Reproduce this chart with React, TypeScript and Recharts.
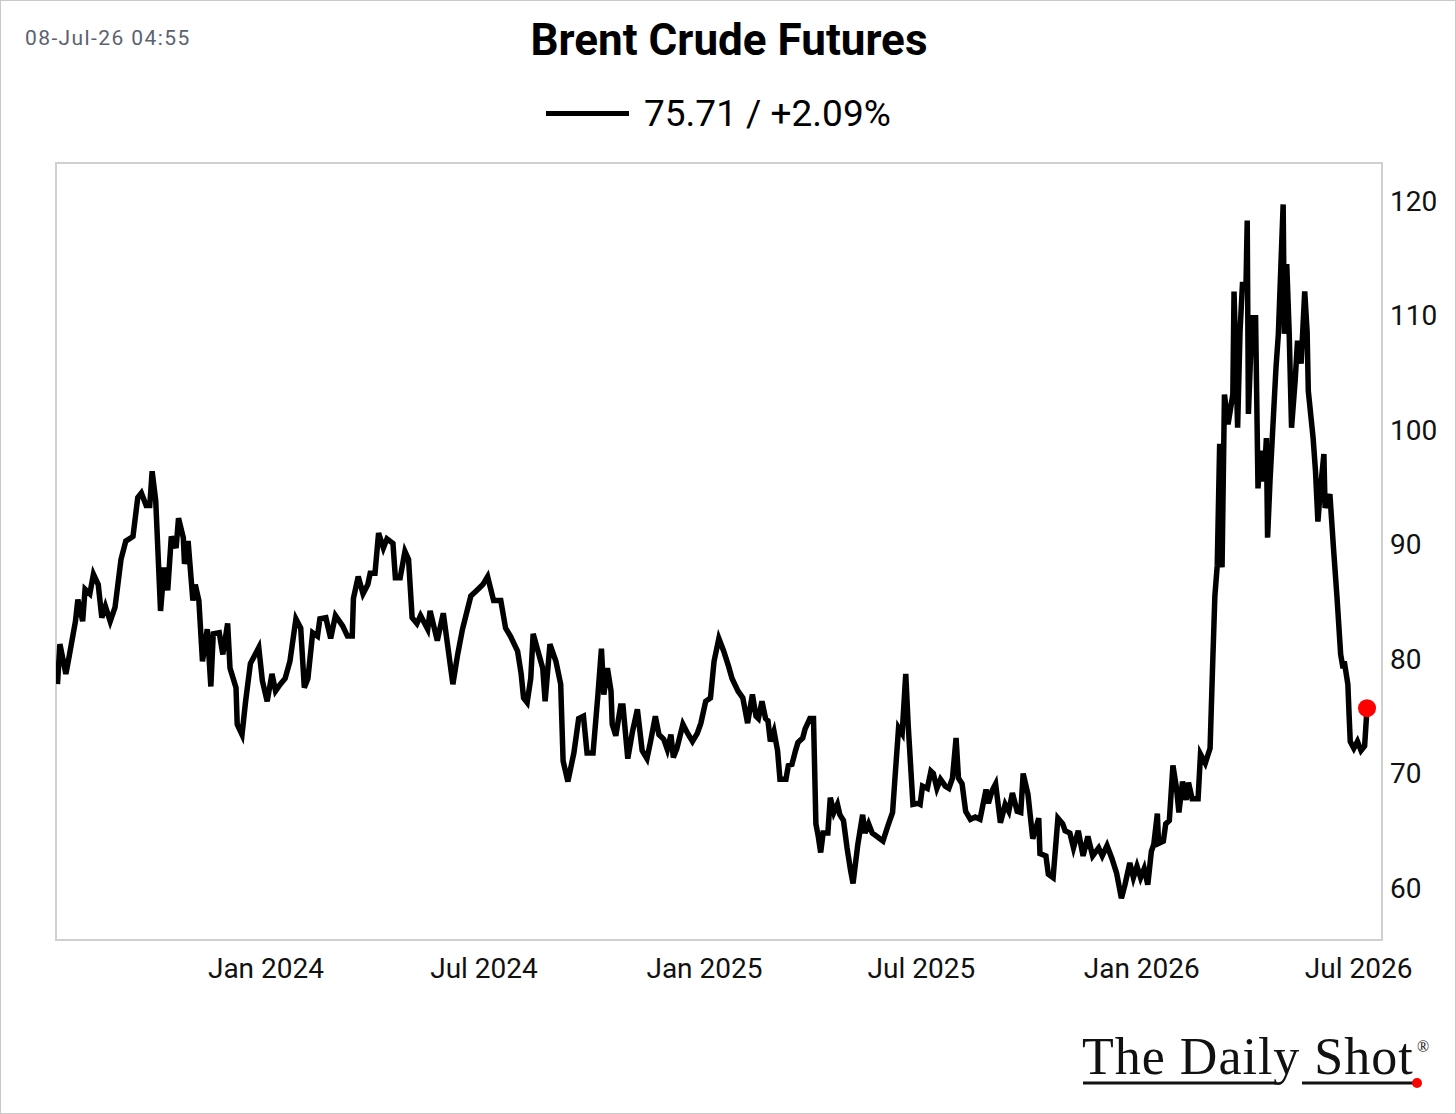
import React from "react";
import { LineChart, Line, XAxis, YAxis, ReferenceArea, ReferenceDot } from "recharts";

// Brent crude front-month (date, USD/bbl)
const prices2023: [string, number][] = [
  ["2023-07-11", 77.8], ["2023-07-13", 81.3], ["2023-07-18", 78.7], ["2023-07-20", 79.8],
  ["2023-07-26", 83.3], ["2023-07-28", 85.2], ["2023-08-01", 83.3], ["2023-08-03", 86.1],
  ["2023-08-07", 85.7], ["2023-08-10", 87.4], ["2023-08-14", 86.5], ["2023-08-17", 83.6],
  ["2023-08-20", 84.6], ["2023-08-24", 83.3], ["2023-08-28", 84.5], ["2023-09-02", 88.7],
  ["2023-09-06", 90.3], ["2023-09-12", 90.7], ["2023-09-16", 94.1], ["2023-09-19", 94.5],
  ["2023-09-23", 93.4], ["2023-09-26", 93.4], ["2023-09-28", 96.4], ["2023-10-01", 93.8],
  ["2023-10-05", 84.2], ["2023-10-08", 88.0], ["2023-10-11", 86.0], ["2023-10-14", 90.7],
  ["2023-10-18", 89.7], ["2023-10-20", 92.3], ["2023-10-24", 90.6], ["2023-10-25", 88.3],
  ["2023-10-28", 90.3], ["2023-11-01", 85.1], ["2023-11-03", 86.5], ["2023-11-06", 85.1],
  ["2023-11-09", 79.8], ["2023-11-13", 82.6], ["2023-11-16", 77.6], ["2023-11-18", 82.2],
  ["2023-11-23", 82.3], ["2023-11-26", 80.4], ["2023-11-30", 83.1], ["2023-12-02", 79.2],
  ["2023-12-07", 77.5], ["2023-12-08", 74.3], ["2023-12-12", 73.4], ["2023-12-15", 76.3],
  ["2023-12-19", 79.6], ["2023-12-26", 81.0], ["2023-12-29", 78.1],
];

const prices2024: [string, number][] = [
  ["2024-01-02", 76.3], ["2024-01-06", 78.7], ["2024-01-09", 77.2], ["2024-01-13", 77.8],
  ["2024-01-17", 78.3], ["2024-01-21", 79.8], ["2024-01-26", 83.5], ["2024-01-30", 82.7],
  ["2024-02-02", 77.5], ["2024-02-05", 78.3], ["2024-02-09", 82.3], ["2024-02-13", 82.0],
  ["2024-02-15", 83.5], ["2024-02-20", 83.6], ["2024-02-24", 81.8], ["2024-02-28", 83.8],
  ["2024-03-05", 82.9], ["2024-03-09", 82.0], ["2024-03-13", 82.0], ["2024-03-14", 85.3],
  ["2024-03-18", 87.2], ["2024-03-22", 85.7], ["2024-03-26", 86.5], ["2024-03-28", 87.5],
  ["2024-04-01", 87.5], ["2024-04-04", 91.0], ["2024-04-08", 89.7], ["2024-04-11", 90.5],
  ["2024-04-16", 90.1], ["2024-04-18", 87.1], ["2024-04-22", 87.1], ["2024-04-26", 89.4],
  ["2024-04-29", 88.7], ["2024-05-02", 83.6], ["2024-05-06", 83.1], ["2024-05-09", 83.8],
  ["2024-05-15", 82.6], ["2024-05-17", 84.2], ["2024-05-23", 81.6], ["2024-05-28", 84.0],
  ["2024-06-05", 77.8], ["2024-06-09", 80.4], ["2024-06-13", 82.6], ["2024-06-20", 85.5],
  ["2024-06-26", 86.1], ["2024-06-30", 86.5], ["2024-07-04", 87.2], ["2024-07-09", 85.1],
  ["2024-07-15", 85.1], ["2024-07-19", 82.7], ["2024-07-23", 82.0], ["2024-07-29", 80.7],
  ["2024-08-01", 78.7], ["2024-08-03", 76.6], ["2024-08-06", 76.2], ["2024-08-09", 78.3],
  ["2024-08-11", 82.2], ["2024-08-15", 80.7], ["2024-08-19", 79.2], ["2024-08-21", 76.3],
  ["2024-08-25", 81.3], ["2024-08-30", 79.8], ["2024-09-03", 77.8], ["2024-09-05", 71.1],
  ["2024-09-09", 69.3], ["2024-09-14", 71.8], ["2024-09-18", 74.8], ["2024-09-22", 75.0],
  ["2024-09-25", 71.8], ["2024-09-30", 71.8], ["2024-10-04", 76.8], ["2024-10-07", 80.9],
  ["2024-10-09", 76.9], ["2024-10-12", 79.2], ["2024-10-15", 77.2], ["2024-10-16", 74.3],
  ["2024-10-19", 73.3], ["2024-10-23", 75.9], ["2024-10-25", 75.9], ["2024-10-29", 71.3],
  ["2024-11-02", 73.7], ["2024-11-06", 75.6], ["2024-11-10", 72.0], ["2024-11-14", 71.3],
  ["2024-11-17", 72.8], ["2024-11-21", 75.0], ["2024-11-24", 73.4], ["2024-11-28", 73.0],
  ["2024-12-01", 72.1], ["2024-12-04", 73.4], ["2024-12-06", 71.4], ["2024-12-09", 72.2],
  ["2024-12-14", 74.3], ["2024-12-18", 73.5], ["2024-12-22", 72.8], ["2024-12-26", 73.5],
  ["2024-12-29", 74.4],
];

const prices2025: [string, number][] = [
  ["2025-01-02", 76.3], ["2025-01-06", 76.6], ["2025-01-09", 79.8], ["2025-01-13", 81.8],
  ["2025-01-17", 80.7], ["2025-01-21", 79.4], ["2025-01-24", 78.3], ["2025-01-29", 77.2],
  ["2025-02-02", 76.6], ["2025-02-04", 75.5], ["2025-02-06", 74.4], ["2025-02-10", 76.9],
  ["2025-02-13", 75.0], ["2025-02-15", 74.8], ["2025-02-18", 76.3], ["2025-02-21", 74.8],
  ["2025-02-23", 74.6], ["2025-02-25", 72.8], ["2025-02-28", 73.7], ["2025-03-03", 72.0],
  ["2025-03-05", 69.5], ["2025-03-10", 69.5], ["2025-03-12", 70.7], ["2025-03-15", 70.8],
  ["2025-03-18", 72.0], ["2025-03-20", 72.7], ["2025-03-24", 73.1], ["2025-03-26", 73.9],
  ["2025-03-30", 74.8], ["2025-04-02", 74.8], ["2025-04-04", 65.6], ["2025-04-06", 64.5],
  ["2025-04-08", 63.1], ["2025-04-10", 64.8], ["2025-04-14", 64.8], ["2025-04-16", 67.9],
  ["2025-04-19", 66.6], ["2025-04-22", 67.3], ["2025-04-24", 66.4], ["2025-04-27", 65.9],
  ["2025-04-30", 63.5], ["2025-05-03", 61.5], ["2025-05-05", 60.4], ["2025-05-09", 63.8],
  ["2025-05-13", 66.4], ["2025-05-15", 64.8], ["2025-05-18", 65.6], ["2025-05-21", 64.8],
  ["2025-05-25", 64.5], ["2025-05-30", 64.1], ["2025-06-03", 65.4], ["2025-06-07", 66.6],
  ["2025-06-09", 69.6], ["2025-06-12", 74.0], ["2025-06-15", 73.5], ["2025-06-18", 78.7],
  ["2025-06-20", 74.3], ["2025-06-24", 67.3], ["2025-06-28", 67.4], ["2025-06-30", 67.3],
  ["2025-07-02", 68.9], ["2025-07-06", 68.7], ["2025-07-09", 70.2], ["2025-07-11", 70.0],
  ["2025-07-14", 68.7], ["2025-07-17", 69.5], ["2025-07-21", 68.9], ["2025-07-24", 68.7],
  ["2025-07-27", 69.6], ["2025-07-30", 73.1], ["2025-08-01", 69.6], ["2025-08-04", 69.1],
  ["2025-08-07", 66.7], ["2025-08-11", 66.0], ["2025-08-15", 66.2], ["2025-08-19", 66.0],
  ["2025-08-24", 68.6], ["2025-08-26", 67.4], ["2025-08-29", 68.5], ["2025-09-01", 69.1],
  ["2025-09-05", 65.7], ["2025-09-09", 67.3], ["2025-09-12", 66.7], ["2025-09-15", 68.3],
  ["2025-09-19", 66.7], ["2025-09-22", 66.6], ["2025-09-24", 70.0], ["2025-09-28", 68.2],
  ["2025-10-02", 64.3], ["2025-10-04", 65.0], ["2025-10-07", 66.1], ["2025-10-08", 63.0],
  ["2025-10-13", 62.8], ["2025-10-15", 61.2], ["2025-10-19", 60.9], ["2025-10-23", 66.1],
  ["2025-10-27", 65.6], ["2025-10-29", 65.0], ["2025-11-02", 64.8], ["2025-11-05", 63.5],
  ["2025-11-09", 65.0], ["2025-11-13", 62.8], ["2025-11-17", 64.5], ["2025-11-21", 62.8],
  ["2025-11-26", 63.5], ["2025-11-29", 62.8], ["2025-12-03", 63.7], ["2025-12-07", 62.6],
  ["2025-12-11", 61.3], ["2025-12-15", 59.1], ["2025-12-18", 60.3], ["2025-12-22", 62.2],
  ["2025-12-25", 60.9], ["2025-12-28", 61.9], ["2025-12-31", 60.9],
];

const prices2026: [string, number][] = [
  ["2026-01-03", 61.7], ["2026-01-06", 60.3], ["2026-01-09", 63.2], ["2026-01-11", 63.8],
  ["2026-01-14", 66.5], ["2026-01-15", 63.9], ["2026-01-19", 64.1], ["2026-01-21", 65.6],
  ["2026-01-24", 65.9], ["2026-01-27", 70.7], ["2026-01-30", 68.7], ["2026-02-01", 66.6],
  ["2026-02-04", 69.3], ["2026-02-07", 67.7], ["2026-02-09", 69.2], ["2026-02-12", 67.8],
  ["2026-02-17", 67.8], ["2026-02-19", 71.7], ["2026-02-23", 70.9], ["2026-02-27", 72.2],
  ["2026-03-01", 79.0], ["2026-03-03", 85.5], ["2026-03-05", 88.2], ["2026-03-07", 98.8],
  ["2026-03-09", 88.0], ["2026-03-11", 103.1], ["2026-03-14", 100.5], ["2026-03-18", 103.1],
  ["2026-03-19", 112.1], ["2026-03-22", 100.2], ["2026-03-24", 108.6], ["2026-03-26", 112.7],
  ["2026-03-29", 112.7], ["2026-03-30", 118.3], ["2026-03-31", 101.4], ["2026-04-03", 109.8],
  ["2026-04-06", 109.8], ["2026-04-08", 94.9], ["2026-04-10", 98.2], ["2026-04-13", 95.5],
  ["2026-04-15", 99.3], ["2026-04-16", 90.6], ["2026-04-18", 95.5], ["2026-04-23", 105.4],
  ["2026-04-25", 108.4], ["2026-04-29", 119.7], ["2026-04-30", 108.4], ["2026-05-02", 114.5],
  ["2026-05-04", 108.6], ["2026-05-06", 100.2], ["2026-05-09", 104.3], ["2026-05-11", 107.8],
  ["2026-05-14", 105.8], ["2026-05-17", 112.1], ["2026-05-19", 108.6], ["2026-05-20", 103.4],
  ["2026-05-24", 99.3], ["2026-05-26", 96.4], ["2026-05-28", 92.0], ["2026-05-30", 94.7],
  ["2026-06-02", 97.9], ["2026-06-03", 93.2], ["2026-06-07", 94.4], ["2026-06-10", 89.7],
  ["2026-06-13", 85.3], ["2026-06-16", 80.4], ["2026-06-18", 79.2], ["2026-06-19", 79.8],
  ["2026-06-22", 77.8], ["2026-06-23", 75.2], ["2026-06-24", 72.8], ["2026-06-27", 72.2],
  ["2026-06-30", 72.8], ["2026-07-03", 72.0], ["2026-07-06", 72.4], ["2026-07-08", 75.71],
];

const xTicks = ["2024-01-01", "2024-07-01", "2025-01-01", "2025-07-01", "2026-01-01", "2026-07-01"];
const yTicks = [60, 70, 80, 90, 100, 110, 120];
const monthNames = ["Jan", "Feb", "Mar", "Apr", "May", "Jun", "Jul", "Aug", "Sep", "Oct", "Nov", "Dec"];

const lastPrice = 75.71;
const lastChange = "+2.09%";
const stamp = "08-Jul-26 04:55";

const toTs = (d: string) => Date.parse(d + "T00:00:00Z");

const data = [...prices2023, ...prices2024, ...prices2025, ...prices2026].map(([d, v]) => ({
  t: toTs(d),
  price: v,
}));

const xMin = Date.parse("2023-07-09T18:00:00Z");
const xMax = Date.parse("2026-07-20T12:00:00Z");
const yMin = 55.46;
const yMax = 123.32;

const fmtTick = (ts: number) => {
  const d = new Date(ts);
  return `${monthNames[d.getUTCMonth()]} ${d.getUTCFullYear()}`;
};

const font = "Roboto, 'Noto Sans', sans-serif";

export default function App() {
  const last = data[data.length - 1];
  return (
    <div
      style={{
        position: "absolute",
        left: 0,
        top: 0,
        width: 1456,
        height: 1114,
        boxSizing: "border-box",
        border: "1px solid #c9c9c9",
        background: "#fff",
        overflow: "hidden",
        fontFamily: font,
      }}
    >
      <div style={{ position: "absolute", left: 0, top: 0 }}>
        <LineChart width={1456} height={1000} data={data} margin={{ top: 162, right: 0, bottom: 0, left: 55 }}>
          <XAxis
            type="number"
            dataKey="t"
            domain={[xMin, xMax]}
            ticks={xTicks.map(toTs)}
            tickFormatter={fmtTick}
            axisLine={false}
            tickLine={false}
            height={61}
            tickMargin={12}
            tick={{ fill: "#111", fontSize: 28, fontFamily: font }}
            allowDataOverflow
          />
          <YAxis
            orientation="right"
            type="number"
            domain={[yMin, yMax]}
            ticks={yTicks}
            axisLine={false}
            tickLine={false}
            width={75}
            tick={{ fill: "#111", fontSize: 28, fontFamily: font, textAnchor: "start" }}
            allowDataOverflow
          />
          <ReferenceArea x1={xMin} x2={xMax} y1={yMin} y2={yMax} fill="none" stroke="#d0d0d0" strokeWidth={2} />
          <Line
            type="linear"
            dataKey="price"
            stroke="#000"
            strokeWidth={5.5}
            dot={false}
            isAnimationActive={false}
          />
          <ReferenceDot x={last.t} y={lastPrice} r={9} fill="#ff0000" stroke="none" />
        </LineChart>
      </div>

      <div
        style={{
          position: "absolute",
          left: 24,
          top: 27,
          fontSize: 21,
          lineHeight: "21px",
          letterSpacing: 1.4,
          color: "#5b6270",
        }}
      >
        {stamp}
      </div>

      <div
        style={{
          position: "absolute",
          left: 0,
          width: 1456,
          top: 17,
          textAlign: "center",
          fontSize: 44,
          lineHeight: "44px",
          fontWeight: 700,
          color: "#000",
        }}
      >
        Brent Crude Futures
      </div>

      <div style={{ position: "absolute", left: 545, top: 94, display: "flex", alignItems: "center" }}>
        <div style={{ width: 83, height: 5, background: "#000", marginRight: 15 }} />
        <div style={{ fontSize: 37, lineHeight: "37px", color: "#000" }}>
          {lastPrice.toFixed(2)} / {lastChange}
        </div>
      </div>

      <svg style={{ position: "absolute", left: 1075, top: 1025 }} width={370} height={75}>
        <text
          x={6}
          y={48}
          fontFamily="'Liberation Serif', 'DejaVu Serif', serif"
          fontSize={52}
          letterSpacing={1}
          fill="#111"
        >
          The Daily Shot
        </text>
        <text x={341} y={26} fontFamily="'Liberation Serif', serif" fontSize={16} fill="#111">
          ®
        </text>
        <line x1={7} y1={57} x2={200} y2={57} stroke="#111" strokeWidth={3} />
        <line x1={226} y1={57} x2={340} y2={57} stroke="#111" strokeWidth={3} />
        <circle cx={341} cy={57} r={5} fill="#ff0000" />
      </svg>
    </div>
  );
}
